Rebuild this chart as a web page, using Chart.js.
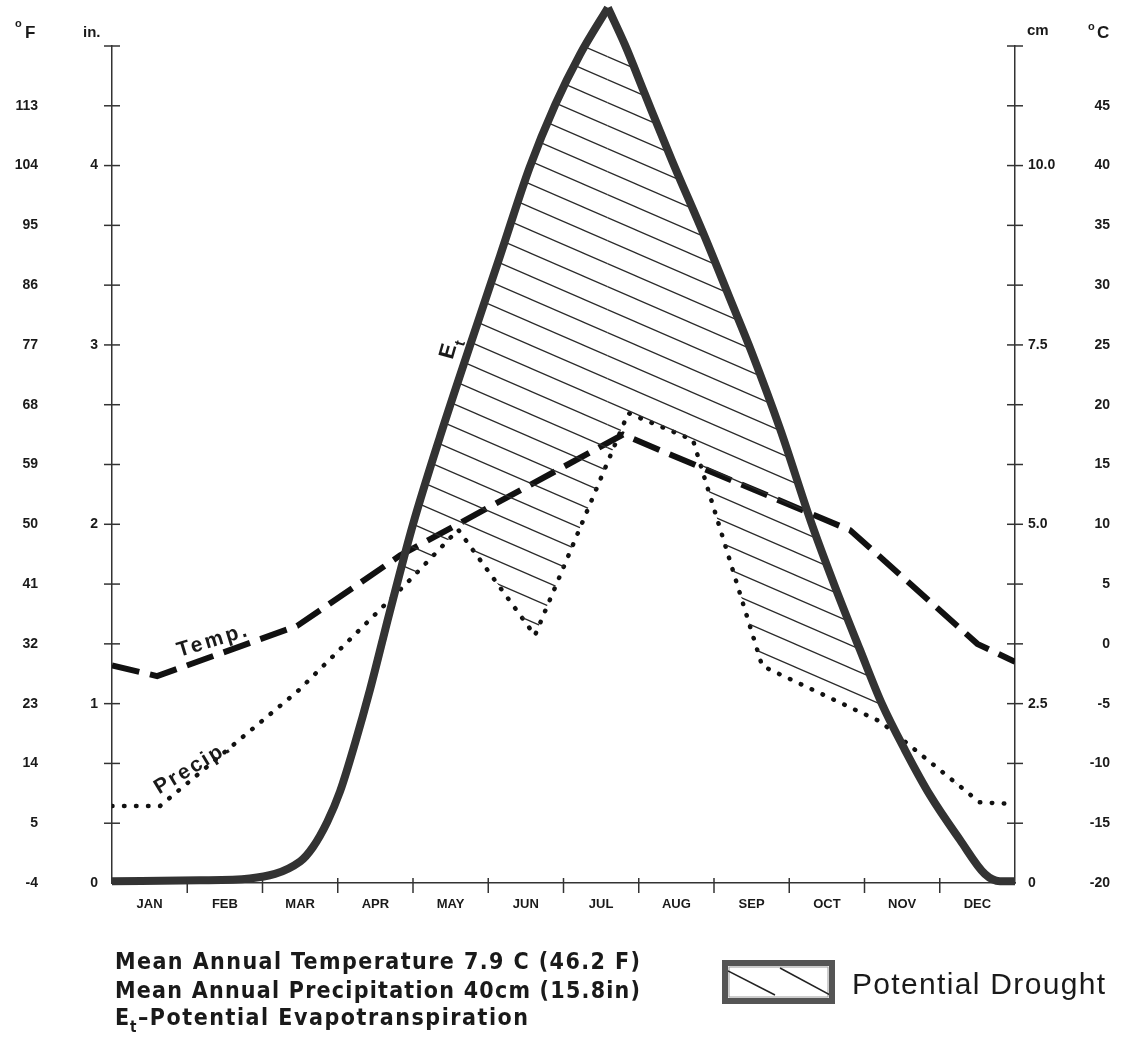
<!DOCTYPE html>
<html>
<head>
<meta charset="utf-8">
<script src="https://cdn.jsdelivr.net/npm/chart.js@4.4.1/dist/chart.umd.min.js"></script>
<style>
  html, body { margin: 0; padding: 0; background: #fff; }
  #wrap { width: 1121px; height: 1038px; position: relative; }
</style>
</head>
<body>
<div id="wrap"><canvas id="climate"></canvas></div>
<script>
// month names along the bottom
var months = ['JAN', 'FEB', 'MAR', 'APR', 'MAY', 'JUN', 'JUL', 'AUG', 'SEP', 'OCT', 'NOV', 'DEC'];

// tick labels of the four axes
var fahrenheitTicks = [-4, 5, 14, 23, 32, 41, 50, 59, 68, 77, 86, 95, 104, 113];
var celsiusTicks = [-20, -15, -10, -5, 0, 5, 10, 15, 20, 25, 30, 35, 40, 45];
var inchTicks = [0, 1, 2, 3, 4];
var cmTicks = [0, 2.5, 5, 7.5, 10];

// potential evapotranspiration (inches), x = months since Jan 1
var etMonth = [0, 1.17, 1.83, 2.50, 2.67, 2.86, 3.03, 3.23, 3.43, 3.69, 4.00, 4.36, 4.76, 5.16, 5.55, 5.89, 6.22, 6.59,
               6.82, 7.08, 7.44, 7.88, 8.21, 8.50, 8.88, 9.30, 9.61, 9.94, 10.23, 10.54, 10.87, 11.27, 11.60, 11.80, 12];
var etInches = [0.01, 0.015, 0.025, 0.12, 0.20, 0.34, 0.51, 0.78, 1.08, 1.51, 2.00, 2.49, 3.00, 3.50, 3.99, 4.34, 4.62, 4.88,
                4.67, 4.40, 4.03, 3.60, 3.26, 2.96, 2.53, 2.00, 1.65, 1.30, 1.00, 0.74, 0.49, 0.24, 0.05, 0.01, 0.01];

// precipitation (inches)
var precipMonth = [0, 0.64, 2.47, 3.96, 4.60, 5.62, 6.86, 7.72, 8.64, 10.21, 11.53, 12];
var precipInches = [0.43, 0.43, 1.07, 1.69, 1.97, 1.38, 2.62, 2.47, 1.21, 0.90, 0.45, 0.44];

// mean temperature (deg C)
var tempMonth = [0, 0.60, 2.46, 3.83, 6.79, 9.81, 11.5, 12];
var tempC = [-1.8, -2.7, 1.5, 7.4, 17.5, 9.5, 0.0, -1.5];

var FONT = "'Liberation Sans', Arial, sans-serif";
var NOTE_FONT = "'DejaVu Sans Condensed', 'Liberation Sans', sans-serif";
var INK = '#1a1a1a';

function pairs(xs, ys, from, to) {
    var out = [];
    for (let i = from; i <= to; i++) {
        out.push({ x: xs[i], y: ys[i] });
    }
    return out;
}

// the Et curve has a sharp peak, so it is drawn as a rising and a falling half
var etPeak = etInches.indexOf(Math.max.apply(null, etInches));

// diagonal hatching used for the drought area
function makeHatch() {
    var w = 53, h = 23;
    var c = document.createElement('canvas');
    c.width = w; c.height = h;
    var g = c.getContext('2d');
    g.strokeStyle = '#2b2b2b';
    g.lineWidth = 1.3;
    [-h, 0, h].forEach(function (dy) {
        g.beginPath();
        g.moveTo(-w, -h + dy);
        g.lineTo(2 * w, 2 * h + dy);
        g.stroke();
    });
    return g.createPattern(c, 'repeat');
}
var hatch = makeHatch();

// draw text stretched by letter spacing to a given width
function fitText(ctx, text, x, y, width) {
    ctx.letterSpacing = '0px';
    var w = ctx.measureText(text).width;
    var sp = (width - w) / Math.max(text.length - 1, 1);
    ctx.letterSpacing = sp + 'px';
    ctx.fillText(text, x, y);
    ctx.letterSpacing = '0px';
}

function seg(ctx, x1, y1, x2, y2) {
    ctx.beginPath();
    ctx.moveTo(x1, y1);
    ctx.lineTo(x2, y2);
    ctx.stroke();
}

function rotatedText(ctx, text, cx, cy, deg, width) {
    ctx.save();
    ctx.translate(cx, cy);
    ctx.rotate(deg * Math.PI / 180);
    ctx.textAlign = 'left';
    ctx.textBaseline = 'middle';
    fitText(ctx, text, -width / 2, 0, width);
    ctx.restore();
}

var decorations = {
    id: 'decorations',
    afterDraw: function (chart) {
        var ctx = chart.ctx;
        var area = chart.chartArea;
        var yF = chart.scales.yF;
        var xs = chart.scales.x;
        ctx.save();

        // tick marks crossing the side axes and the month dividers
        ctx.strokeStyle = '#333';
        ctx.lineWidth = 1.5;
        fahrenheitTicks.concat([yF.max]).forEach(function (v) {
            if (v === fahrenheitTicks[0]) return;
            var y = yF.getPixelForValue(v);
            seg(ctx, area.left - 8, y, area.left + 8, y);
            seg(ctx, area.right - 8, y, area.right + 8, y);
        });
        for (let m = 1; m < months.length; m++) {
            var px = xs.getPixelForValue(m);
            seg(ctx, px, area.bottom - 5, px, area.bottom + 10);
        }

        ctx.fillStyle = INK;
        ctx.textBaseline = 'alphabetic';
        ctx.textAlign = 'left';

        // unit labels
        ctx.font = 'bold 11px ' + FONT;
        ctx.fillText('o', 15, 27);
        ctx.fillText('o', 1088, 30);
        ctx.font = 'bold 17px ' + FONT;
        ctx.fillText('F', 25, 38);
        ctx.fillText('C', 1097, 38);
        ctx.font = 'bold 15px ' + FONT;
        ctx.fillText('in.', 83, 37);
        ctx.fillText('cm', 1027, 35);

        // series labels on the chart
        ctx.font = 'bold 21px ' + FONT;
        rotatedText(ctx, 'Temp.', 212, 641, -17, 72);
        rotatedText(ctx, 'Precip.', 192, 768, -31, 84);
        ctx.save();
        ctx.translate(449, 351);
        ctx.rotate(-74 * Math.PI / 180);
        ctx.textBaseline = 'middle';
        ctx.font = 'bold 22px ' + FONT;
        ctx.fillText('E', -8, 0);
        ctx.font = 'bold 15px ' + FONT;
        ctx.fillText('t', 8, 9);
        ctx.restore();

        // notes under the chart
        ctx.font = 'bold 23px ' + NOTE_FONT;
        fitText(ctx, 'Mean Annual Temperature 7.9 C (46.2 F)', 115, 969, 525);
        fitText(ctx, 'Mean Annual Precipitation 40cm (15.8in)', 115, 998, 525);
        ctx.fillText('E', 115, 1025);
        ctx.font = 'bold 15px ' + NOTE_FONT;
        ctx.fillText('t', 130, 1032);
        ctx.font = 'bold 23px ' + NOTE_FONT;
        fitText(ctx, '\u2013Potential Evapotranspiration', 138, 1025, 390);

        // legend swatch for the hatched area
        ctx.strokeStyle = '#555';
        ctx.lineWidth = 6;
        ctx.strokeRect(725, 963, 107, 38);
        ctx.strokeStyle = '#9a9a9a';
        ctx.lineWidth = 1;
        ctx.strokeRect(729, 967, 99, 30);
        ctx.save();
        ctx.beginPath();
        ctx.rect(728, 966, 101, 32);
        ctx.clip();
        ctx.strokeStyle = '#222';
        ctx.lineWidth = 1.5;
        seg(ctx, 728, 971, 775, 995);
        seg(ctx, 780, 968, 830, 995);
        ctx.restore();

        ctx.fillStyle = INK;
        ctx.font = '30px ' + FONT;
        fitText(ctx, 'Potential Drought', 852, 994, 253);

        ctx.restore();
    }
};

var tickFont = { family: FONT, size: 14, weight: 'bold' };

function etHalf(label, from, to) {
    return {
        label: label,
        data: pairs(etMonth, etInches, from, to),
        yAxisID: 'yIn',
        borderColor: '#333',
        borderWidth: 8,
        borderJoinStyle: 'round',
        cubicInterpolationMode: 'monotone',
        pointRadius: 0,
        clip: false,
        fill: { target: 2, above: hatch, below: 'rgba(0,0,0,0)' }
    };
}

var ctx = document.getElementById('climate');
var myChart = new Chart(ctx, {
    type: 'line',
    data: {
        datasets: [
            etHalf('Et rising', 0, etPeak),
            etHalf('Et falling', etPeak, etMonth.length - 1),
            {
                label: 'Precip.',
                data: pairs(precipMonth, precipInches, 0, precipMonth.length - 1),
                yAxisID: 'yIn',
                borderColor: '#111',
                borderWidth: 4.5,
                borderDash: [0.5, 11.5],
                borderCapStyle: 'round',
                tension: 0,
                pointRadius: 0,
                fill: false
            }, {
                label: 'Temp.',
                data: pairs(tempMonth, tempC, 0, tempMonth.length - 1),
                yAxisID: 'yC',
                borderColor: '#111',
                borderWidth: 6,
                borderDash: [28, 11],
                tension: 0,
                pointRadius: 0,
                fill: false
            }
        ]
    },
    options: {
        responsive: true,
        maintainAspectRatio: false,
        animation: false,
        events: [],
        layout: { padding: { left: 0, right: 11, top: 46, bottom: 0 } },
        scales: {
            x: {
                type: 'linear',
                position: 'bottom',
                min: 0,
                max: 12,
                afterBuildTicks: function (s) { s.ticks = months.map(function (m, i) { return { value: i + 0.5 }; }); },
                afterFit: function (s) { s.height = 155; },
                ticks: {
                    autoSkip: false,
                    maxRotation: 0,
                    padding: 6,
                    color: INK,
                    font: { family: FONT, size: 13, weight: 'bold' },
                    callback: function (v, i) { return months[i]; }
                },
                grid: { display: false },
                border: { display: true, color: '#333', width: 1.5 }
            },
            yF: {
                type: 'linear',
                position: 'left',
                weight: 2,
                min: -4,
                max: 122,
                afterBuildTicks: function (s) { s.ticks = fahrenheitTicks.map(function (v) { return { value: v }; }); },
                afterFit: function (s) { s.width = 60; },
                ticks: { padding: 14, color: INK, font: tickFont, callback: function (v) { return String(v); } },
                grid: { display: false },
                border: { display: false }
            },
            yIn: {
                type: 'linear',
                position: 'left',
                weight: 1,
                min: 0,
                max: 14 / 3,
                afterBuildTicks: function (s) { s.ticks = inchTicks.map(function (v) { return { value: v }; }); },
                afterFit: function (s) { s.width = 52; },
                ticks: { padding: 6, color: INK, font: tickFont, callback: function (v) { return String(v); } },
                grid: { display: false },
                border: { display: true, color: '#333', width: 1.5 }
            },
            yCm: {
                type: 'linear',
                position: 'right',
                weight: 1,
                min: 0,
                max: 35 / 3,
                afterBuildTicks: function (s) { s.ticks = cmTicks.map(function (v) { return { value: v }; }); },
                afterFit: function (s) { s.width = 57; },
                ticks: {
                    padding: 5, color: INK, font: tickFont,
                    callback: function (v) { return v === 0 ? '0' : v.toFixed(1); }
                },
                grid: { display: false },
                border: { display: true, color: '#333', width: 1.5 }
            },
            yC: {
                type: 'linear',
                position: 'right',
                weight: 2,
                min: -20,
                max: 50,
                afterBuildTicks: function (s) { s.ticks = celsiusTicks.map(function (v) { return { value: v }; }); },
                afterFit: function (s) { s.width = 38; },
                ticks: { padding: 0, crossAlign: 'far', color: INK, font: tickFont, callback: function (v) { return String(v); } },
                grid: { display: false },
                border: { display: false }
            }
        },
        plugins: {
            legend: { display: false },
            tooltip: { enabled: false },
            title: { display: false }
        }
    },
    plugins: [decorations]
});
</script>
</body>
</html>
